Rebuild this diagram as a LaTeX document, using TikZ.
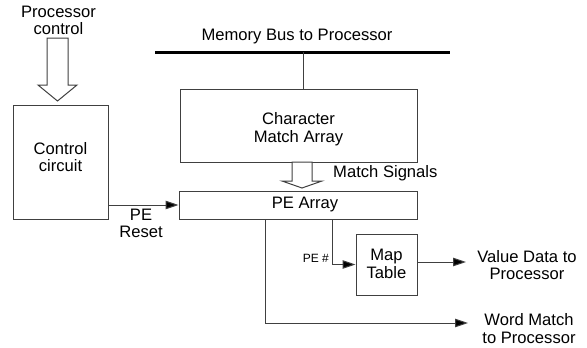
\documentclass[tikz,border=0pt]{standalone}
\usepackage{fontspec}
\setmainfont{Liberation Sans}
\usetikzlibrary{arrows.meta}
\tikzset{
  box/.style={draw=black!75, line width=1pt, inner sep=0pt},
  lbl/.style={font=\fontsize{16.6}{17.5}\selectfont, align=center, inner sep=0pt},
  small/.style={font=\fontsize{12}{13}\selectfont, inner sep=0pt},
  wire/.style={draw=black!75, line width=1pt},
  arr/.style={wire, -{Triangle[length=13pt,width=8.5pt,fill=black]}},
  hollow/.style={draw=black!75, line width=1pt, fill=white, line join=miter}
}
\begin{document}
\begin{tikzpicture}[x=1pt,y=-1pt]
\useasboundingbox (0,0) rectangle (587,348);
% processor control
\node[lbl] (pc) at (58.5,20.5) {Processor\\control};
\draw[hollow] (47,38) -- (68,38) -- (68,85) -- (77,85) -- (57.5,101) -- (38,85) -- (47,85) -- cycle;
% control circuit
\node[box, minimum width=95pt, minimum height=114pt] (ctrl) at (60.5,162) {};
\node[lbl] (ctrltxt) at (60.5,157) {Control\\circuit};
% memory bus
\coordinate (busl) at (155,52);
\coordinate (busr) at (450,52);
\draw[line width=3pt] (busl) -- (busr);
\node[lbl] (bustxt) at (297,37) {Memory Bus to Processor};
% character match array
\node[box, minimum width=237pt, minimum height=73pt] (cma) at (298.5,125.5) {};
\node[lbl] (cmatxt) at (298.5,129) {Character\\Match Array};
\coordinate (bustap) at (303,52);
\draw[wire] (bustap) -- (bustap |- cma.north);
% hollow arrow match signals
\draw[hollow] (292,162) -- (312,162) -- (312,181) -- (322,181) -- (302,188) -- (282,181) -- (292,181) -- cycle;
\node[lbl, anchor=west] (mstxt) at (333,173) {Match Signals};
% PE array
\node[box, minimum width=238pt, minimum height=28pt] (pe) at (298,205) {};
\node[lbl] (petxt) at (305,205) {PE Array};
% PE reset
\draw[arr] (ctrl.east |- pe.west) -- (pe.west);
\node[lbl] (resettxt) at (141,223.5) {PE\\Reset};
% map table
\node[box, minimum width=61pt, minimum height=61pt] (map) at (386.5,264.5) {};
\node[lbl] (maptxt) at (386.5,264) {Map\\Table};
\coordinate (pn) at (332,219);
\draw[arr] (pn) |- (map.west);
\node[small, anchor=east] (pnum) at (329,258) {PE \#};
% value data
\coordinate (valend) at (466,262);
\draw[arr] (map.east |- valend) -- (valend);
\node[lbl] (valtxt) at (527,265) {Value Data to\\Processor};
% word match
\coordinate (wm) at (265,219);
\coordinate (wmend) at (468,323);
\draw[arr] (wm) |- (wmend);
\node[lbl] (wmtxt) at (529,328.5) {Word Match\\to Processor};
\end{tikzpicture}
\end{document}
